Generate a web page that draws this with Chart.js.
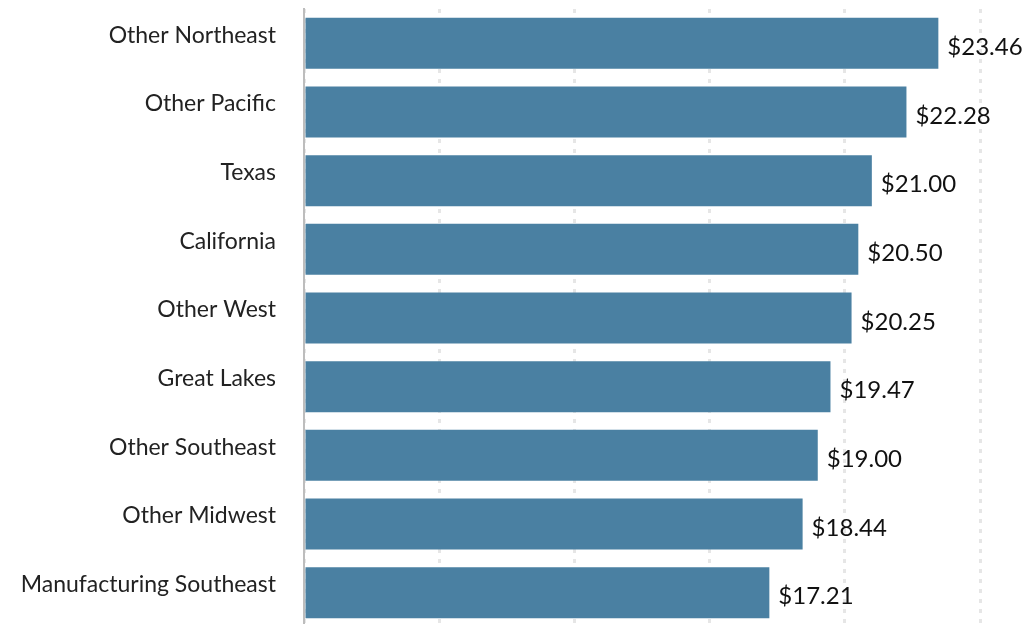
<!DOCTYPE html>
<html>
<head>
<meta charset="utf-8">
<script src="https://cdn.jsdelivr.net/npm/chart.js@4"></script>
<style>
  html, body { margin: 0; padding: 0; background: #fff; overflow: hidden; }
  #wrap { position: relative; width: 1028px; height: 627px; }
</style>
</head>
<body>
<div id="wrap"><canvas id="myChart"></canvas></div>
<script>
const regions = [
  "Other Northeast",
  "Other Pacific",
  "Texas",
  "California",
  "Other West",
  "Great Lakes",
  "Other Southeast",
  "Other Midwest",
  "Manufacturing Southeast",
];
const wages = [23.46, 22.28, 21.0, 20.5, 20.25, 19.47, 19.0, 18.44, 17.21];

const barColor = "rgb(74, 128, 162)";
const fontFamily = "Lato, 'Open Sans', sans-serif";

// dollar amount written just past the end of each bar
const valueLabels = {
  id: "valueLabels",
  afterDatasetsDraw(chart) {
    const ctx = chart.ctx;
    const meta = chart.getDatasetMeta(0);
    ctx.save();
    ctx.font = "24px " + fontFamily;
    ctx.fillStyle = "#111";
    ctx.textAlign = "left";
    ctx.textBaseline = "middle";
    meta.data.forEach((bar, i) => {
      ctx.fillText("$" + wages[i].toFixed(2), bar.x + 9, bar.y + 4);
    });
    ctx.restore();
  },
};

const data = {
  labels: regions,
  datasets: [
    {
      data: wages,
      backgroundColor: barColor,
      borderWidth: 0,
      categoryPercentage: 1,
      barPercentage: 0.743,
    },
  ],
};

const config = {
  type: "bar",
  data: data,
  plugins: [valueLabels],
  options: {
    indexAxis: "y",
    responsive: true,
    maintainAspectRatio: false,
    animation: false,
    layout: {
      padding: { top: 9, right: 48, bottom: 0, left: 0 },
    },
    plugins: {
      legend: { display: false },
      tooltip: { enabled: false },
    },
    scales: {
      x: {
        min: 0,
        max: 25,
        ticks: { stepSize: 5, display: false },
        border: { display: false },
        grid: {
          color: "#e6e6e6",
          lineWidth: 3,
          drawTicks: false,
        },
        afterFit(scale) {
          scale.height = 0;
          scale.paddingLeft = 0;
          scale.paddingRight = 0;
        },
      },
      y: {
        grid: { display: false, drawTicks: false },
        border: { display: true, color: "#bdbdbd", width: 2 },
        ticks: {
          color: "#222",
          padding: 28,
          labelOffset: -8,
          font: { size: 23, family: fontFamily },
        },
        afterFit(scale) {
          scale.width = 304;
          scale.paddingTop = 0;
          scale.paddingBottom = 0;
        },
      },
    },
  },
};

// dotted vertical grid lines
config.options.scales.x.border.dash = [4, 6];

const myChart = new Chart(document.getElementById("myChart"), config);
</script>
</body>
</html>
